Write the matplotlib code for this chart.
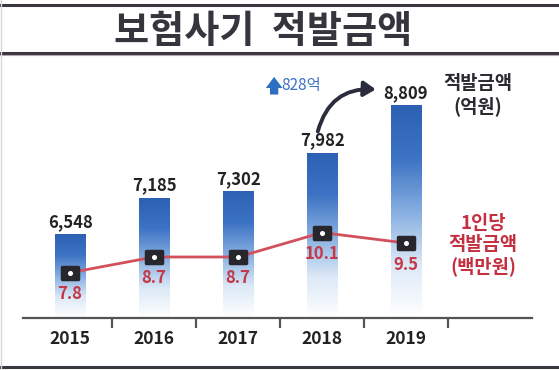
import matplotlib
matplotlib.use('Agg')
import matplotlib.pyplot as plt
import numpy as np
from matplotlib.colors import LinearSegmentedColormap
from matplotlib.markers import MarkerStyle
from matplotlib.patches import FancyArrowPatch
from matplotlib.transforms import Affine2D

plt.rcParams['font.family'] = ['Noto Sans CJK KR', 'DejaVu Sans']

# data
years = ['2015', '2016', '2017', '2018', '2019']
amount = [6548, 7185, 7302, 7982, 8809]          # 적발금액 (억원)
amount_labels = ['6,548', '7,185', '7,302', '7,982', '8,809']
per_person = [7.8, 8.7, 8.7, 10.1, 9.5]          # 1인당 적발금액 (백만원)
increase_label = '828억'

W, H = 559, 370
fig = plt.figure(figsize=(W / 100, H / 100), dpi=100)
fig.patch.set_facecolor('white')

# frame lines (figure pixel coords, top-down)
def hline(y, color, lw):
    fig.add_artist(plt.Line2D([0, 1], [1 - y / H, 1 - y / H], color=color, lw=lw,
                              transform=fig.transFigure))

hline(4.5, '#3b3540', 2.2)
hline(52.5, '#3b3540', 2.2)
hline(54.5, '#b0aab0', 0.8)
hline(367, '#3b3540', 2.2)
fig.add_artist(plt.Line2D([1.5 / W, 1.5 / W], [0, 1], color='#d8d8d8', lw=1,
                          transform=fig.transFigure))

fig.text(263 / W, 1 - 31 / H, '보험사기  적발금액', ha='center', va='center',
         fontsize=27.5, fontweight='bold', color='#37343e')

# main axes
left, right, bottom, top = 23, 532, 318, 60
ax = fig.add_axes([left / W, 1 - bottom / H, (right - left) / W, (bottom - top) / H])
x = np.arange(len(years))
for s in ['top', 'right', 'left']:
    ax.spines[s].set_visible(False)
ax.spines['bottom'].set_color('#555555')
ax.spines['bottom'].set_linewidth(1.6)
ax.set_yticks([])
ax.set_xticks(x)
ax.set_xticklabels(years, fontsize=12.5, fontweight='bold', color='#222222')
ax.tick_params(axis='x', which='major', length=0, pad=9)
ax.set_xticks([0.5, 1.5, 2.5, 3.5, 4.5], minor=True)
ax.tick_params(axis='x', which='minor', length=7, width=1.6, color='#555555', direction='out')

# gradient bars
cmap = LinearSegmentedColormap.from_list('bb', ['#ffffff', '#dce9f7', '#86aee0', '#3d73c4', '#2d61b3'])
grad = np.linspace(0, 1, 256).reshape(-1, 1)
bw = 0.36
ymin = 5090
for xi, v in zip(x, amount):
    ax.imshow(grad, cmap=cmap, aspect='auto', origin='lower',
              extent=(xi - bw / 2, xi + bw / 2, ymin, v), zorder=1)
for xi, v, lab in zip(x, amount, amount_labels):
    ax.annotate(lab, (xi, v), xytext=(0, 3), textcoords='offset points',
                ha='center', va='bottom', fontsize=12, fontweight='bold', color='#222222')
ax.set_xlim(-0.56, 5.5)
ax.set_ylim(ymin, 9615)

# increase arrow between 2018 and 2019 labels
curve = FancyArrowPatch((2.95, amount[3] + 380), (3.64, amount[4] + 290),
                        arrowstyle='-|>,head_length=7,head_width=4.5',
                        connectionstyle='arc3,rad=-0.4', color='#2a2e3c', lw=2.8,
                        shrinkA=0, shrinkB=0, mutation_scale=1, zorder=6)
ax.add_patch(curve)
up = FancyArrowPatch((2.43, amount[4] + 200), (2.43, amount[4] + 510),
                     arrowstyle='simple,head_length=8,head_width=12,tail_width=6',
                     color='#2f6fc0', lw=0, shrinkA=0, shrinkB=0, mutation_scale=1, zorder=6)
ax.add_patch(up)
ax.text(2.52, amount[4] + 365, increase_label, ha='left', va='center',
        fontsize=11, color='#3a72c4')

# per-person line
ax2 = ax.twinx()
ax2.set_ylim(5.2, 20.0)
ax2.axis('off')
ax2.set_xlim(-0.56, 5.5)
mk = MarkerStyle('s', joinstyle='round', transform=Affine2D().scale(1.3, 1.0))
ax2.plot(x, per_person, color='#d2505c', lw=2, zorder=3)
ax2.plot(x, per_person, linestyle='none', marker=mk, ms=8.5, mfc='#26262c',
         mec='#26262c', mew=2.5, zorder=4)
ax2.plot(x, per_person, linestyle='none', marker='o', ms=2.6, mfc='white',
         mec='white', zorder=5)
for xi, v in zip(x, per_person):
    ax2.annotate(f'{v}', (xi, v), xytext=(0, -9), textcoords='offset points',
                 ha='center', va='top', fontsize=12, fontweight='bold', color='#c43848')

# legend-like labels
fig.text(478 / W, 1 - 95 / H, '적발금액\n(억원)', ha='center', va='center',
         fontsize=13.5, fontweight='bold', color='#2a2a30', linespacing=1.2)
fig.text(483 / W, 1 - 245 / H, '1인당\n적발금액\n(백만원)', ha='center', va='center',
         fontsize=13.5, fontweight='bold', color='#c43040', linespacing=1.15)

fig.savefig('out.png', dpi=100, facecolor='white')
